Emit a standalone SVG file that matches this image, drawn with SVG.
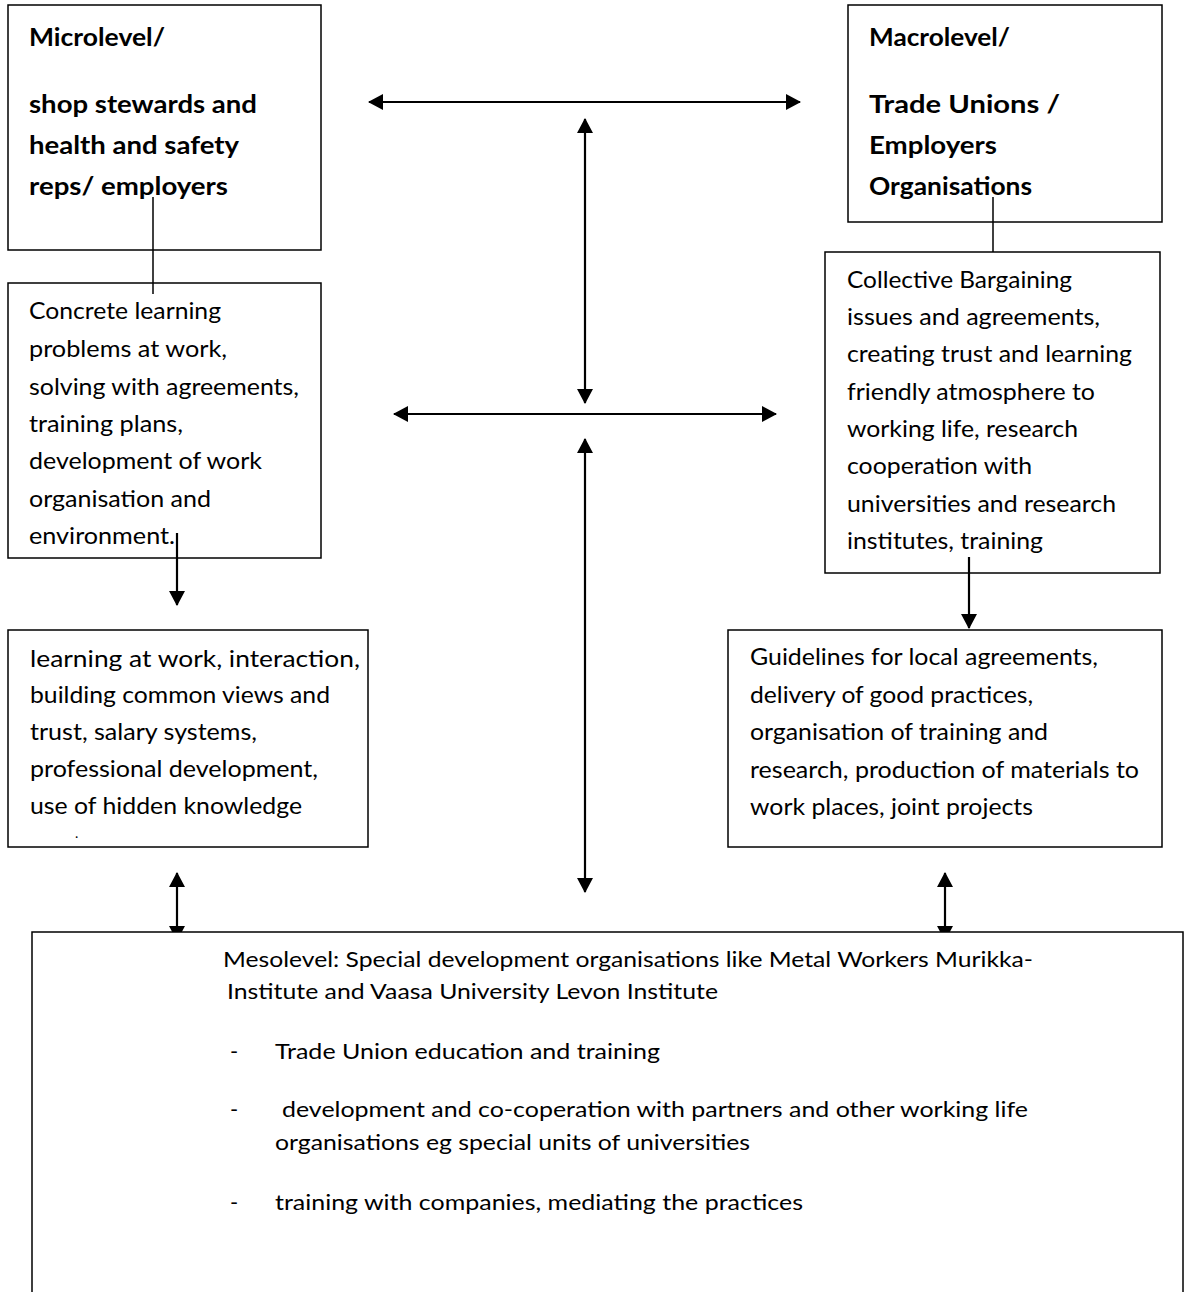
<svg xmlns="http://www.w3.org/2000/svg" width="1185" height="1292" viewBox="0 0 1185 1292">
<style>
.box{fill:none;stroke:#000;stroke-width:1.5}
.wbox{fill:#fff;stroke:#000;stroke-width:1.5}
.t{font-family:Lato,"Liberation Sans",sans-serif;font-size:24px;fill:#000}
.b{font-family:Lato,"Liberation Sans",sans-serif;font-size:24px;font-weight:bold;fill:#000}
.m{font-family:Lato,"Liberation Sans",sans-serif;font-size:22px;fill:#000}
.d{font-family:Lato,"Liberation Sans",sans-serif;font-size:14px;fill:#000}
.ln{stroke:#000;stroke-width:1.5;fill:none}
.ar{stroke:#000;stroke-width:2.2;fill:none;marker-start:url(#ah);marker-end:url(#ah)}
.ar1{stroke:#000;stroke-width:2.2;fill:none;marker-end:url(#ah)}
</style>
<defs>
<marker id="ah" markerUnits="userSpaceOnUse" viewBox="0 0 15 16" refX="14" refY="8" markerWidth="15" markerHeight="16" orient="auto-start-reverse">
<path d="M0,0 L15,8 L0,16 z" fill="#000"/>
</marker>
</defs>
<rect width="1185" height="1292" fill="#fff"/>
<g id="connectors">
<line class="ln" x1="153" y1="197" x2="153" y2="294"/>
<line class="ln" x1="993" y1="197" x2="993" y2="252"/>
<line class="ar" x1="369" y1="102" x2="800" y2="102"/>
<line class="ar" x1="585" y1="119" x2="585" y2="403"/>
<line class="ar" x1="394" y1="414" x2="776" y2="414"/>
<line class="ar" x1="585" y1="439" x2="585" y2="892"/>
<line class="ar1" x1="177" y1="533" x2="177" y2="605"/>
<line class="ar1" x1="969" y1="557" x2="969" y2="628"/>
<line class="ar" x1="177" y1="873" x2="177" y2="940"/>
<line class="ar" x1="945" y1="873" x2="945" y2="940"/>
</g>
<g id="micro">
<rect class="box" x="8" y="5" width="313" height="245"/>
<text class="b" x="29" y="46" textLength="136" lengthAdjust="spacingAndGlyphs">Microlevel/</text>
<text class="b" x="29" y="113" textLength="228" lengthAdjust="spacingAndGlyphs">shop stewards and</text>
<text class="b" x="29" y="154" textLength="210" lengthAdjust="spacingAndGlyphs">health and safety</text>
<text class="b" x="29" y="195" textLength="199" lengthAdjust="spacingAndGlyphs">reps/ employers</text>
</g>
<g id="macro">
<rect class="box" x="848" y="5" width="314" height="217"/>
<text class="b" x="869" y="46" textLength="141" lengthAdjust="spacingAndGlyphs">Macrolevel/</text>
<text class="b" x="869" y="113" textLength="191" lengthAdjust="spacingAndGlyphs">Trade Unions /</text>
<text class="b" x="869" y="154" textLength="128" lengthAdjust="spacingAndGlyphs">Employers</text>
<text class="b" x="869" y="195" textLength="163" lengthAdjust="spacingAndGlyphs">Organisations</text>
</g>
<g id="concrete">
<rect class="box" x="8" y="283" width="313" height="275"/>
<text class="t" x="29" y="319" textLength="192" lengthAdjust="spacingAndGlyphs">Concrete learning</text>
<text class="t" x="29" y="357" textLength="198" lengthAdjust="spacingAndGlyphs">problems at work,</text>
<text class="t" x="29" y="395" textLength="270" lengthAdjust="spacingAndGlyphs">solving with agreements,</text>
<text class="t" x="29" y="432" textLength="154" lengthAdjust="spacingAndGlyphs">training plans,</text>
<text class="t" x="29" y="469" textLength="233" lengthAdjust="spacingAndGlyphs">development of work</text>
<text class="t" x="29" y="507" textLength="182" lengthAdjust="spacingAndGlyphs">organisation and</text>
<text class="t" x="29" y="544" textLength="146" lengthAdjust="spacingAndGlyphs">environment.</text>
</g>
<g id="collective">
<rect class="box" x="825" y="252" width="335" height="321"/>
<text class="t" x="847" y="288" textLength="225" lengthAdjust="spacingAndGlyphs">Collective Bargaining</text>
<text class="t" x="847" y="325" textLength="253" lengthAdjust="spacingAndGlyphs">issues and agreements,</text>
<text class="t" x="847" y="362" textLength="285" lengthAdjust="spacingAndGlyphs">creating trust and learning</text>
<text class="t" x="847" y="400" textLength="248" lengthAdjust="spacingAndGlyphs">friendly atmosphere to</text>
<text class="t" x="847" y="437" textLength="231" lengthAdjust="spacingAndGlyphs">working life, research</text>
<text class="t" x="847" y="474" textLength="185" lengthAdjust="spacingAndGlyphs">cooperation with</text>
<text class="t" x="847" y="512" textLength="269" lengthAdjust="spacingAndGlyphs">universities and research</text>
<text class="t" x="847" y="549" textLength="196" lengthAdjust="spacingAndGlyphs">institutes, training</text>
</g>
<g id="learning">
<rect class="box" x="8" y="630" width="360" height="217"/>
<text class="t" x="30" y="667" textLength="330" lengthAdjust="spacingAndGlyphs">learning at work, interaction,</text>
<text class="t" x="30" y="703" textLength="300" lengthAdjust="spacingAndGlyphs">building common views and</text>
<text class="t" x="30" y="740" textLength="227" lengthAdjust="spacingAndGlyphs">trust, salary systems,</text>
<text class="t" x="30" y="777" textLength="288" lengthAdjust="spacingAndGlyphs">professional development,</text>
<text class="t" x="30" y="814" textLength="272" lengthAdjust="spacingAndGlyphs">use of hidden knowledge</text>
<text class="d" x="75" y="838">.</text>
</g>
<g id="guidelines">
<rect class="box" x="728" y="630" width="434" height="217"/>
<text class="t" x="750" y="665" textLength="348" lengthAdjust="spacingAndGlyphs">Guidelines for local agreements,</text>
<text class="t" x="750" y="703" textLength="283" lengthAdjust="spacingAndGlyphs">delivery of good practices,</text>
<text class="t" x="750" y="740" textLength="298" lengthAdjust="spacingAndGlyphs">organisation of training and</text>
<text class="t" x="750" y="778" textLength="389" lengthAdjust="spacingAndGlyphs">research, production of materials to</text>
<text class="t" x="750" y="815" textLength="283" lengthAdjust="spacingAndGlyphs">work places, joint projects</text>
</g>
<g id="meso">
<rect class="wbox" x="32" y="932" width="1151" height="400"/>
<text class="m" x="223" y="967" textLength="810" lengthAdjust="spacingAndGlyphs">Mesolevel: Special development organisations like Metal Workers Murikka-</text>
<text class="m" x="227" y="999" textLength="491" lengthAdjust="spacingAndGlyphs">Institute and Vaasa University Levon Institute</text>
<text class="m" x="230" y="1059">-</text>
<text class="m" x="275" y="1059" textLength="385" lengthAdjust="spacingAndGlyphs">Trade Union education and training</text>
<text class="m" x="230" y="1117">-</text>
<text class="m" x="282" y="1117" textLength="746" lengthAdjust="spacingAndGlyphs">development and co-coperation with partners and other working life</text>
<text class="m" x="275" y="1150" textLength="475" lengthAdjust="spacingAndGlyphs">organisations eg special units of universities</text>
<text class="m" x="230" y="1210">-</text>
<text class="m" x="275" y="1210" textLength="528" lengthAdjust="spacingAndGlyphs">training with companies, mediating the practices</text>
</g>
</svg>
